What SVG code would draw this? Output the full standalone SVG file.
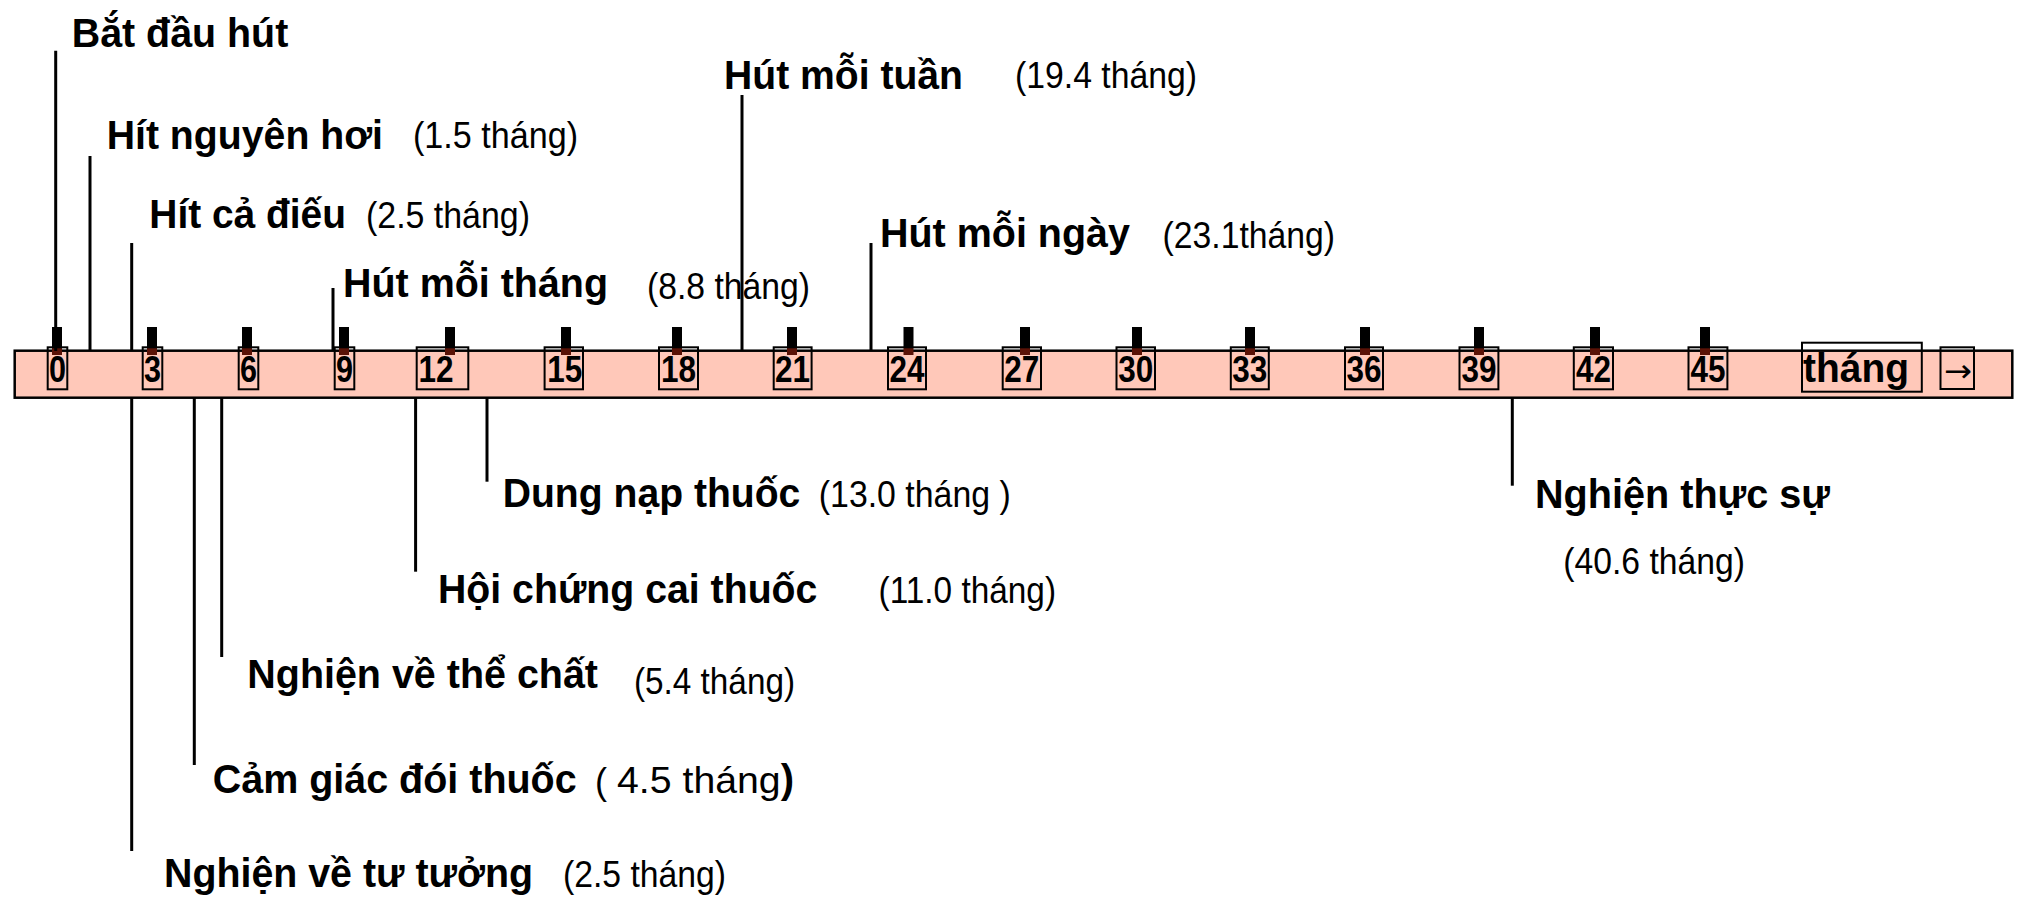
<svg xmlns="http://www.w3.org/2000/svg" width="2022" height="904" viewBox="0 0 2022 904">
<style>
.b{font-family:"Liberation Sans",Arial,sans-serif;font-weight:bold;font-size:40px;fill:#000}
.n{font-family:"Liberation Sans",Arial,sans-serif;font-weight:normal;font-size:36px;fill:#000}
.num{font-family:"Liberation Sans Narrow","Liberation Sans",Arial,sans-serif;font-weight:bold;font-size:37px;fill:#000;text-anchor:middle}
.ln{stroke:#000;stroke-width:3;fill:none}
.box{fill:none;stroke:#000;stroke-width:2}
.tick{fill:#000}
.tin{fill:#5a1206}
</style>
<rect width="2022" height="904" fill="#fff"/>
<g id="axis">
<rect x="14.7" y="350.7" width="1997.6" height="47" fill="#FFC8B9" stroke="#000" stroke-width="2.5"/>
<g id="ticks">
<rect class="tick" x="52" y="327" width="10" height="21"/><rect class="tin" x="52" y="348" width="10" height="7"/>
<rect class="tick" x="147" y="327" width="10" height="21"/><rect class="tin" x="147" y="348" width="10" height="7"/>
<rect class="tick" x="242" y="327" width="10" height="21"/><rect class="tin" x="242" y="348" width="10" height="7"/>
<rect class="tick" x="339" y="327" width="10" height="21"/><rect class="tin" x="339" y="348" width="10" height="7"/>
<rect class="tick" x="445" y="327" width="10" height="21"/><rect class="tin" x="445" y="348" width="10" height="7"/>
<rect class="tick" x="561" y="327" width="10" height="21"/><rect class="tin" x="561" y="348" width="10" height="7"/>
<rect class="tick" x="672" y="327" width="10" height="21"/><rect class="tin" x="672" y="348" width="10" height="7"/>
<rect class="tick" x="787" y="327" width="10" height="21"/><rect class="tin" x="787" y="348" width="10" height="7"/>
<rect class="tick" x="903.5" y="327" width="10" height="21"/><rect class="tin" x="903.5" y="348" width="10" height="7"/>
<rect class="tick" x="1020" y="327" width="10" height="21"/><rect class="tin" x="1020" y="348" width="10" height="7"/>
<rect class="tick" x="1132" y="327" width="10" height="21"/><rect class="tin" x="1132" y="348" width="10" height="7"/>
<rect class="tick" x="1245" y="327" width="10" height="21"/><rect class="tin" x="1245" y="348" width="10" height="7"/>
<rect class="tick" x="1360" y="327" width="10" height="21"/><rect class="tin" x="1360" y="348" width="10" height="7"/>
<rect class="tick" x="1474" y="327" width="10" height="21"/><rect class="tin" x="1474" y="348" width="10" height="7"/>
<rect class="tick" x="1590" y="327" width="10" height="21"/><rect class="tin" x="1590" y="348" width="10" height="7"/>
<rect class="tick" x="1700" y="327" width="10" height="21"/><rect class="tin" x="1700" y="348" width="10" height="7"/>
</g>
<g id="months">
<rect class="box" x="47.7" y="347.3" width="19.6" height="42"/><text class="num" x="57.5" y="382" textLength="17" lengthAdjust="spacingAndGlyphs">0</text>
<rect class="box" x="142.7" y="347.3" width="19.6" height="42"/><text class="num" x="152.5" y="382" textLength="17" lengthAdjust="spacingAndGlyphs">3</text>
<rect class="box" x="238.7" y="347.3" width="19.6" height="42"/><text class="num" x="248.5" y="382" textLength="17" lengthAdjust="spacingAndGlyphs">6</text>
<rect class="box" x="334.7" y="347.3" width="19.6" height="42"/><text class="num" x="344.5" y="382" textLength="17" lengthAdjust="spacingAndGlyphs">9</text>
<rect class="box" x="416.7" y="347.3" width="51.6" height="42"/><text class="num" x="436" y="382" textLength="35" lengthAdjust="spacingAndGlyphs">12</text>
<rect class="box" x="544.6" y="347.3" width="38.4" height="42"/><text class="num" x="564.8" y="382" textLength="35" lengthAdjust="spacingAndGlyphs">15</text>
<rect class="box" x="659" y="347.3" width="39" height="42"/><text class="num" x="678.5" y="382" textLength="35" lengthAdjust="spacingAndGlyphs">18</text>
<rect class="box" x="773.7" y="347.3" width="37.9" height="42"/><text class="num" x="792.6" y="382" textLength="35" lengthAdjust="spacingAndGlyphs">21</text>
<rect class="box" x="888" y="347.3" width="38" height="42"/><text class="num" x="907" y="382" textLength="35" lengthAdjust="spacingAndGlyphs">24</text>
<rect class="box" x="1002.7" y="347.3" width="38.3" height="42"/><text class="num" x="1021.8" y="382" textLength="35" lengthAdjust="spacingAndGlyphs">27</text>
<rect class="box" x="1116.5" y="347.3" width="38.5" height="42"/><text class="num" x="1135.8" y="382" textLength="35" lengthAdjust="spacingAndGlyphs">30</text>
<rect class="box" x="1230.8" y="347.3" width="38" height="42"/><text class="num" x="1249.8" y="382" textLength="35" lengthAdjust="spacingAndGlyphs">33</text>
<rect class="box" x="1345" y="347.3" width="38" height="42"/><text class="num" x="1364" y="382" textLength="35" lengthAdjust="spacingAndGlyphs">36</text>
<rect class="box" x="1459.5" y="347.3" width="38.9" height="42"/><text class="num" x="1479" y="382" textLength="35" lengthAdjust="spacingAndGlyphs">39</text>
<rect class="box" x="1573.8" y="347.3" width="39.2" height="42"/><text class="num" x="1593.4" y="382" textLength="35" lengthAdjust="spacingAndGlyphs">42</text>
<rect class="box" x="1688.5" y="347.3" width="38.9" height="42"/><text class="num" x="1708" y="382" textLength="35" lengthAdjust="spacingAndGlyphs">45</text>
</g>
<g id="unit">
<rect class="box" x="1802" y="342.7" width="119.8" height="49"/>
<text class="b" x="1803" y="381.7" textLength="106" lengthAdjust="spacingAndGlyphs">tháng</text>
</g>
<g id="arrow">
<rect class="box" x="1940.5" y="347.3" width="33.5" height="41.7"/>
<text x="1944" y="382" font-family="'DejaVu Sans',sans-serif" font-size="32" fill="#000" textLength="28" lengthAdjust="spacingAndGlyphs">→</text>
</g>
</g>
<g id="connectors">
<line class="ln" x1="55.7" y1="50.7" x2="55.7" y2="351"/>
<line class="ln" x1="90" y1="156" x2="90" y2="351"/>
<line class="ln" x1="131.7" y1="243" x2="131.7" y2="351"/>
<line class="ln" x1="333" y1="288" x2="333" y2="351"/>
<line class="ln" x1="742" y1="95" x2="742" y2="351"/>
<line class="ln" x1="871" y1="243" x2="871" y2="351"/>
<line class="ln" x1="131.7" y1="398" x2="131.7" y2="851"/>
<line class="ln" x1="194.3" y1="398" x2="194.3" y2="765"/>
<line class="ln" x1="221.7" y1="398" x2="221.7" y2="657"/>
<line class="ln" x1="415.6" y1="398" x2="415.6" y2="571.7"/>
<line class="ln" x1="487" y1="398" x2="487" y2="481.7"/>
<line class="ln" x1="1512.3" y1="398" x2="1512.3" y2="485.7"/>
</g>
<g id="start"><text class="b" x="71.7" y="46.7" textLength="216.6" lengthAdjust="spacingAndGlyphs">Bắt đầu hút</text></g>
<g id="hit-nguyen-hoi"><text class="b" x="106.7" y="149" textLength="276.3" lengthAdjust="spacingAndGlyphs">Hít nguyên hơi</text><text class="n" x="413" y="148" textLength="165" lengthAdjust="spacingAndGlyphs">(1.5 tháng)</text></g>
<g id="hit-ca-dieu"><text class="b" x="149.3" y="228.3" textLength="196.7" lengthAdjust="spacingAndGlyphs">Hít cả điếu</text><text class="n" x="366" y="228" textLength="164" lengthAdjust="spacingAndGlyphs">(2.5 tháng)</text></g>
<g id="hut-moi-thang"><text class="b" x="343" y="297" textLength="265" lengthAdjust="spacingAndGlyphs">Hút mỗi tháng</text><text class="n" x="647" y="299" textLength="163" lengthAdjust="spacingAndGlyphs">(8.8 tháng)</text></g>
<g id="hut-moi-tuan"><text class="b" x="724" y="89" textLength="239" lengthAdjust="spacingAndGlyphs">Hút mỗi tuần</text><text class="n" x="1015" y="87.5" textLength="182" lengthAdjust="spacingAndGlyphs">(19.4 tháng)</text></g>
<g id="hut-moi-ngay"><text class="b" x="880" y="246.7" textLength="250" lengthAdjust="spacingAndGlyphs">Hút mỗi ngày</text><text class="n" x="1162.6" y="248" textLength="172.4" lengthAdjust="spacingAndGlyphs">(23.1tháng)</text></g>
<g id="dung-nap-thuoc"><text class="b" x="502.7" y="506.7" textLength="297.7" lengthAdjust="spacingAndGlyphs">Dung nạp thuốc</text><text class="n" x="818.8" y="507" textLength="191.9" lengthAdjust="spacingAndGlyphs">(13.0 tháng )</text></g>
<g id="hoi-chung-cai-thuoc"><text class="b" x="438" y="602.7" textLength="379.4" lengthAdjust="spacingAndGlyphs">Hội chứng cai thuốc</text><text class="n" x="878.6" y="603" textLength="177.4" lengthAdjust="spacingAndGlyphs">(11.0 tháng)</text></g>
<g id="nghien-the-chat"><text class="b" x="247.3" y="688.3" textLength="350.7" lengthAdjust="spacingAndGlyphs">Nghiện về thể chất</text><text class="n" x="634" y="694" textLength="161" lengthAdjust="spacingAndGlyphs">(5.4 tháng)</text></g>
<g id="cam-giac-doi-thuoc"><text class="b" x="212.7" y="792.7" textLength="364" lengthAdjust="spacingAndGlyphs">Cảm giác đói thuốc</text><text class="n" x="595" y="794" font-size="15">(</text><text class="n" x="617" y="793.3" font-size="38" textLength="163.7" lengthAdjust="spacingAndGlyphs">4.5 tháng</text><text class="b" x="780.7" y="793.3" font-size="36">)</text></g>
<g id="nghien-tu-tuong"><text class="b" x="164" y="887.3" textLength="369" lengthAdjust="spacingAndGlyphs">Nghiện về tư tưởng</text><text class="n" x="563" y="887" textLength="163" lengthAdjust="spacingAndGlyphs">(2.5 tháng)</text></g>
<g id="nghien-thuc-su"><text class="b" x="1535" y="508.3" textLength="295" lengthAdjust="spacingAndGlyphs">Nghiện thực sự</text><text class="n" x="1563.3" y="574" textLength="181.7" lengthAdjust="spacingAndGlyphs">(40.6 tháng)</text></g>
</svg>
